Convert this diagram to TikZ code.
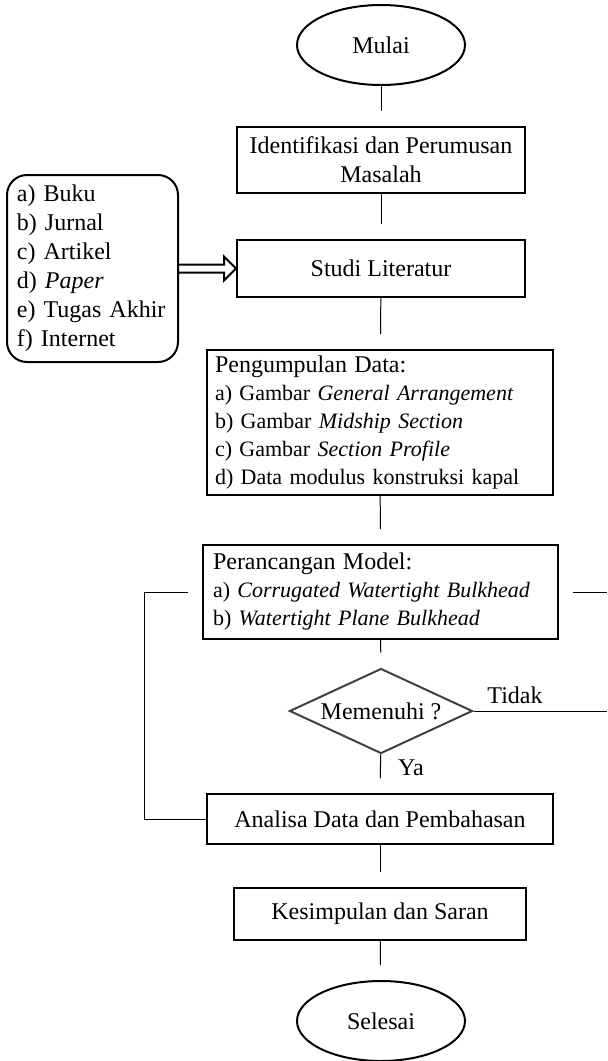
\documentclass[tikz,border=0pt]{standalone}
\usepackage{fontspec}
\setmainfont{Liberation Serif}
\usetikzlibrary{shapes.geometric,calc}

\begin{document}
\begin{tikzpicture}[x=0.5pt,y=-0.5pt,
		font=\fontsize{12}{14.5}\selectfont,
		kotak/.style={draw,line width=1pt,inner sep=0pt,align=center},
		ujung/.style={draw,ellipse,line width=1pt,minimum width=84pt,minimum height=40pt,inner sep=0pt},
		daftar/.style={draw,line width=1pt,align=left,inner xsep=4pt,inner ysep=0pt},
		rinci/.style={daftar,font={\fontsize{11}{14}\selectfont}},
		putusan/.style={draw=black!75,diamond,aspect=2.15,line width=1pt,minimum width=91.5pt,minimum height=42.5pt,inner sep=0pt},
		garis/.style={line width=0.5pt,shorten >=7.5pt}]
		\useasboundingbox (0,0) rectangle (607,1061);
		\coordinate (batas) at (607,0);
		% alur utama
		\node[ujung] (mulai) at (381,45) {Mulai};
		\node[kotak,minimum width=144pt,minimum height=33pt] (identif) at (381,160) {Identifikasi dan Perumusan\\Masalah};
		\node[kotak,minimum width=144pt,minimum height=28.5pt] (studi) at (381,268.5) {Studi Literatur};
		\node[daftar,rounded corners=10pt,text width=75.5pt,inner xsep=5pt,minimum height=93.5pt] (pustaka) at (92.5,268.5) {a) Buku\\b) Jurnal\\c) Artikel\\d) \textit{Paper}\\e) Tugas Akhir\\f) Internet};
		\node[rinci,text width=165pt,minimum height=72.5pt] (kumpul) at (380,422.5) {{\fontsize{12}{14}\selectfont Pengumpulan Data:}\\a) Gambar \textit{General Arrangement}\\b) Gambar \textit{Midship Section}\\c) Gambar \textit{Section Profile}\\d) Data modulus konstruksi kapal};
		\node[rinci,text width=167.5pt,inner xsep=5pt,minimum height=47pt] (rancang) at (380.5,592) {{\fontsize{12}{14}\selectfont Perancangan Model:}\\a) \textit{Corrugated Watertight Bulkhead}\\b) \textit{Watertight Plane Bulkhead}};
		\node[putusan] (cek) at (381,711) {Memenuhi ?};
		\node[kotak,minimum width=173pt,minimum height=25pt] (analisa) at (380,819) {Analisa Data dan Pembahasan};
		\node[kotak,minimum width=146pt,minimum height=26pt] (simpul) at (380,914) {Kesimpulan dan Saran};
		\node[ujung] (selesai) at (381,1021) {Selesai};
		\node (tidak) at (515,695) {Tidak};
		\node (ya) at (411,768) {Ya};
		% penghubung
		\draw[garis] (mulai) -- (identif);
		\draw[garis] (identif) -- (studi);
		\draw[garis] (studi) -- (kumpul);
		\draw[garis] (kumpul) -- (rancang);
		\draw[garis] (rancang) -- (cek);
		\draw[garis] (cek) -- (analisa);
		\draw[garis] (analisa) -- (simpul);
		\draw[garis] (simpul) -- (selesai);
		\draw[line width=0.5pt,shorten <=7pt] (rancang.west) -- ++(-58,0) |- (analisa.west);
		\draw[line width=0.5pt,shorten <=7pt] (rancang.east) -- (rancang.east -| batas);
		\draw[line width=0.5pt] (cek.east) -- (cek.east -| batas);
		% panah ganda
		\draw[line width=1pt,line join=miter] ($(pustaka.east)+(0,-4)$) -- ($(studi.west)+(-12,-4)$) -- ++(0,-8)
			-- (studi.west) -- ++(-12,12) -- ++(0,-8) -- ($(pustaka.east)+(0,4)$);
\end{tikzpicture}
\end{document}
